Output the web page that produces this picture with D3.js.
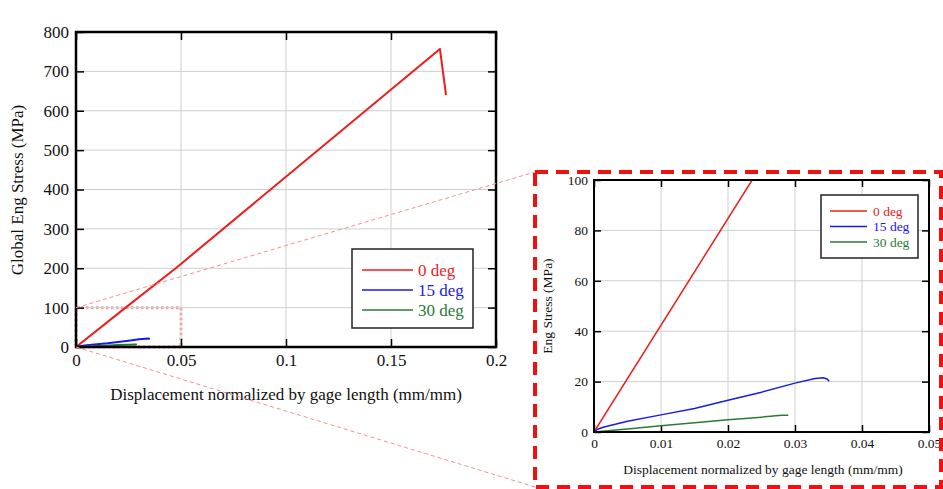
<!DOCTYPE html>
<html>
<head>
<meta charset="utf-8">
<script src="https://cdn.jsdelivr.net/npm/d3@7"></script>
<style>
  body { margin: 0; background: #fff; }
  svg, svg text { font-family: "Liberation Serif", "Times New Roman", serif; }
  svg { display: block; }
</style>
</head>
<body>
<div id="chart"></div>
<script>
// series (displacement mm/mm, stress MPa)
var series0 = [[0, 0], [0.0236, 100], [0.0475, 200], [0.1733, 757], [0.1762, 640]];
var series15 = [[0, 0], [0.0006, 1.2], [0.0015, 2.0], [0.005, 4.3], [0.01, 6.8], [0.015, 9.3],
  [0.02, 12.6], [0.025, 15.8], [0.03, 19.4], [0.033, 21.2], [0.0342, 21.5], [0.0348, 21.0], [0.0351, 20.2]];
var series30 = [[0, 0], [0.002, 0.5], [0.005, 1.2], [0.01, 2.5], [0.015, 3.7], [0.02, 4.9],
  [0.025, 5.9], [0.028, 6.6], [0.029, 6.6]];
var labels = ["0 deg", "15 deg", "30 deg"];
var colors = ["#ee1c1c", "#1a1aee", "#2a7a36"];
var mainXTicks = [0, 0.05, 0.1, 0.15, 0.2];
var mainYTicks = [0, 100, 200, 300, 400, 500, 600, 700, 800];
var zoomXTicks = [0, 0.01, 0.02, 0.03, 0.04, 0.05];
var zoomYTicks = [0, 20, 40, 60, 80, 100];

var allSeries = [series0, series15, series30];
var serif = "Liberation Serif, Times New Roman, serif";

var svg = d3.select("#chart").append("svg")
  .attr("width", 943).attr("height", 489);

function drawPanel(opt) {
  var x = d3.scaleLinear().domain(opt.xDomain).range(opt.xRange);
  var y = d3.scaleLinear().domain(opt.yDomain).range(opt.yRange);
  var g = svg.append("g");

  var clipId = opt.id + "clip";
  g.append("clipPath").attr("id", clipId).append("rect")
    .attr("x", opt.xRange[0]).attr("y", opt.yRange[1])
    .attr("width", opt.xRange[1] - opt.xRange[0])
    .attr("height", opt.yRange[0] - opt.yRange[1]);

  // grid
  g.selectAll(".gx").data(opt.xTicks.slice(1, -1)).enter().append("line")
    .attr("x1", function(d) { return x(d); }).attr("x2", function(d) { return x(d); })
    .attr("y1", opt.yRange[0]).attr("y2", opt.yRange[1])
    .attr("stroke", "#cfcfcf").attr("stroke-width", 1);
  g.selectAll(".gy").data(opt.yTicks.slice(1, -1)).enter().append("line")
    .attr("y1", function(d) { return y(d); }).attr("y2", function(d) { return y(d); })
    .attr("x1", opt.xRange[0]).attr("x2", opt.xRange[1])
    .attr("stroke", "#cfcfcf").attr("stroke-width", 1);

  // axes with inward ticks, mirrored
  var fmt = function(d) { return String(d); };
  function clean(a) {
    a.select(".domain").remove();
    a.attr("font-family", serif).attr("font-size", opt.fs);
  }
  g.append("g").attr("transform", "translate(0," + opt.yRange[0] + ")")
    .call(d3.axisBottom(x).tickValues(opt.xTicks).tickFormat(fmt).tickSizeInner(-opt.tick).tickSizeOuter(0).tickPadding(opt.pad))
    .call(clean);
  g.append("g").attr("transform", "translate(" + opt.xRange[0] + ",0)")
    .call(d3.axisLeft(y).tickValues(opt.yTicks).tickFormat(fmt).tickSizeInner(-opt.tick).tickSizeOuter(0).tickPadding(opt.pad))
    .call(clean);
  g.append("g").attr("transform", "translate(0," + opt.yRange[1] + ")")
    .call(d3.axisTop(x).tickValues(opt.xTicks).tickFormat("").tickSizeInner(-opt.tick).tickSizeOuter(0))
    .call(clean);
  g.append("g").attr("transform", "translate(" + opt.xRange[1] + ",0)")
    .call(d3.axisRight(y).tickValues(opt.yTicks).tickFormat("").tickSizeInner(-opt.tick).tickSizeOuter(0))
    .call(clean);
  g.selectAll(".tick line").attr("stroke", "#000").attr("stroke-width", 1.5);
  g.selectAll(".tick text").attr("fill", "#111");

  // series
  var line = d3.line().x(function(d) { return x(d[0]); }).y(function(d) { return y(d[1]); });
  g.append("g").attr("clip-path", "url(#" + clipId + ")")
    .selectAll("path").data(allSeries).enter().append("path")
    .attr("d", line).attr("fill", "none")
    .attr("stroke", function(d, i) { return colors[i]; })
    .attr("stroke-width", opt.lw).attr("stroke-linejoin", "round");

  // frame
  g.append("rect")
    .attr("x", opt.xRange[0]).attr("y", opt.yRange[1])
    .attr("width", opt.xRange[1] - opt.xRange[0])
    .attr("height", opt.yRange[0] - opt.yRange[1])
    .attr("fill", "none").attr("stroke", "#000").attr("stroke-width", opt.frame);

  // axis titles
  g.append("text")
    .attr("x", opt.xLabelCx).attr("y", opt.xLabelY)
    .attr("text-anchor", "middle").attr("font-size", opt.fs).attr("fill", "#111")
    .text("Displacement normalized by gage length (mm/mm)");
  g.append("text")
    .attr("transform", "translate(" + opt.yLabelX + "," + opt.yLabelCy + ") rotate(-90)")
    .attr("text-anchor", "middle").attr("font-size", opt.fs).attr("fill", "#111")
    .text(opt.yLabel);

  // legend
  var L = opt.legend;
  var lg = g.append("g");
  lg.append("rect").attr("x", L.x).attr("y", L.y).attr("width", L.w).attr("height", L.h)
    .attr("fill", "#fff").attr("stroke", "#222").attr("stroke-width", 1.5);
  labels.forEach(function(lab, i) {
    var yy = L.y + L.row0 + i * L.dy;
    lg.append("line").attr("x1", L.x + L.l0).attr("x2", L.x + L.l1)
      .attr("y1", yy).attr("y2", yy).attr("stroke", colors[i]).attr("stroke-width", 1.5);
    lg.append("text").attr("x", L.x + L.tx).attr("y", yy).attr("dy", "0.35em")
      .attr("font-size", opt.fs).attr("fill", colors[i]).text(lab);
  });

  return { x: x, y: y };
}

// zoom callouts drawn first (behind main panel marks)
var callout = svg.append("g");

var main = drawPanel({
  id: "main",
  xDomain: [0, 0.2], yDomain: [0, 800],
  xRange: [76, 496], yRange: [347, 32],
  xTicks: mainXTicks, yTicks: mainYTicks,
  tick: 8, pad: 7, fs: 17, lw: 2, frame: 2.5,
  xLabelCx: 286, xLabelY: 400, yLabelX: 23, yLabelCy: 190, yLabel: "Global Eng Stress (MPa)",
  legend: { x: 352, y: 249, w: 121, h: 79, row0: 21, dy: 20, l0: 10, l1: 61, tx: 66 }
});

var inset = drawPanel({
  id: "inset",
  xDomain: [0, 0.05], yDomain: [0, 100],
  xRange: [594, 929], yRange: [432, 180],
  xTicks: zoomXTicks, yTicks: zoomYTicks,
  tick: 7, pad: 6, fs: 13.5, lw: 1.5, frame: 2,
  xLabelCx: 763, xLabelY: 474, yLabelX: 552, yLabelCy: 306, yLabel: "Eng Stress (MPa)",
  legend: { x: 821, y: 195, w: 97, h: 63, row0: 16, dy: 15.5, l0: 9, l1: 46, tx: 52 }
});

// dotted region in main chart
var rx0 = main.x(0), rx1 = main.x(0.05), ry0 = main.y(0), ry1 = main.y(100);
callout.append("rect").attr("x", rx0).attr("y", ry1)
  .attr("width", rx1 - rx0).attr("height", ry0 - ry1)
  .attr("fill", "none").attr("stroke", "#f49a9a").attr("stroke-width", 3)
  .attr("stroke-dasharray", "2.5,2.5");

// inset frame box
var bx0 = 535, by0 = 172, bx1 = 941, by1 = 487;
svg.append("rect").attr("x", bx0).attr("y", by0).attr("width", bx1 - bx0).attr("height", by1 - by0)
  .attr("fill", "none").attr("stroke", "#f01010").attr("stroke-width", 4)
  .attr("stroke-dasharray", "13,8");

// connector lines
svg.append("line").attr("x1", rx0).attr("y1", ry1).attr("x2", bx0).attr("y2", by0)
  .attr("stroke", "#f79090").attr("stroke-width", 1).attr("stroke-dasharray", "4,3");
svg.append("line").attr("x1", rx0).attr("y1", ry0).attr("x2", bx0).attr("y2", by1)
  .attr("stroke", "#f79090").attr("stroke-width", 1).attr("stroke-dasharray", "4,3");
</script>
</body>
</html>
